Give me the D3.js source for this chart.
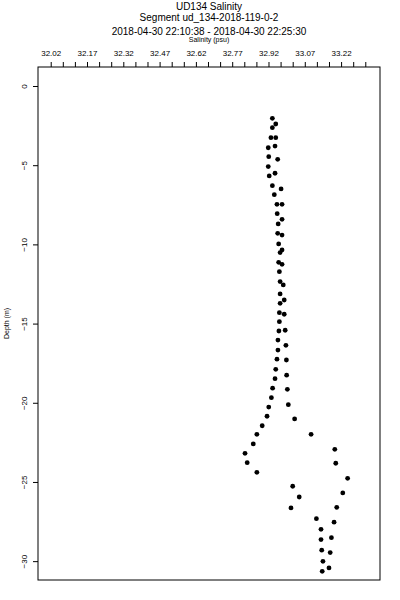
<!DOCTYPE html>
<html>
<head>
<meta charset="utf-8">
<script src="https://cdn.jsdelivr.net/npm/d3@7"></script>
<style>
  body { margin: 0; background: #fff; }
  text { font-family: "Liberation Sans", Arial, sans-serif; fill: #000; }
</style>
</head>
<body>
<svg width="400" height="600"></svg>
<script>
// titles
var titleLines = ["UD134 Salinity", "Segment ud_134-2018-119-0-2", "2018-04-30 22:10:38 - 2018-04-30 22:25:30"];
var xLabel = "Salinity (psu)";
var yLabel = "Depth (m)";

// salinity (psu) and depth (m)
var salinity = [32.936, 32.950, 32.936, 32.930, 32.950, 32.919, 32.947, 32.921, 32.958, 32.919,
                32.923, 32.947, 32.936, 32.972, 32.944, 32.955, 32.976, 32.956, 32.976, 32.960,
                32.958, 32.976, 32.962, 32.968, 32.976, 32.962, 32.976, 32.965, 32.968, 32.981,
                32.968, 32.968, 32.985, 32.965, 32.985, 32.965, 32.963, 32.989, 32.959, 32.959,
                32.992, 32.955, 32.994, 32.950, 32.947, 32.995, 32.937, 32.998, 32.932, 32.921,
                33.002, 32.914, 33.028, 32.894, 32.872, 33.096, 32.857, 32.823, 33.194, 32.832,
                33.198, 32.872, 33.247, 33.020, 33.227, 33.047, 33.013, 33.202, 33.118, 33.191,
                33.137, 33.137, 33.180, 33.140, 33.175, 33.145, 33.142, 33.170];
var depth = [2.04, 2.40, 2.63, 3.26, 3.26, 3.90, 3.79, 4.46, 4.63, 5.09,
             5.68, 5.51, 6.29, 6.50, 6.86, 7.47, 7.47, 8.06, 8.42, 8.71,
             9.30, 9.41, 9.97, 10.52, 10.35, 11.13, 11.26, 11.72, 12.35, 12.56,
             13.13, 13.72, 13.51, 14.31, 14.41, 14.88, 15.47, 15.42, 16.04, 16.67,
             16.37, 17.25, 17.30, 17.89, 18.48, 18.26, 19.08, 19.15, 19.68, 20.27,
             20.12, 20.85, 21.02, 21.45, 21.99, 21.99, 22.60, 23.19, 22.94, 23.78,
             23.82, 24.39, 24.77, 25.27, 25.69, 25.95, 26.64, 26.60, 27.32, 27.54,
             27.99, 28.64, 28.52, 29.31, 29.46, 30.01, 30.64, 30.43];

// axis ticks
var xTicks = d3.range(0, 27).map(function(i){ return +(32.02 + i * 0.05).toFixed(2); });
var xTickLabels = [32.02, 32.17, 32.32, 32.47, 32.62, 32.77, 32.92, 33.07, 33.22];
var yTicks = [0, -5, -10, -15, -20, -25, -30];

var box = {left: 38, right: 380, top: 67, bottom: 580};

var svg = d3.select("svg");

var x = d3.scaleLinear()
          .domain([31.9675, 33.3808])
          .range([box.left, box.right]);
var y = d3.scaleLinear()
          .domain([1.2, -31.19])
          .range([box.top, box.bottom]);

// titles
var titleY = [10, 21, 34.5];
svg.selectAll(".title")
   .data(titleLines)
   .enter()
   .append("text")
   .attr("class", "title")
   .attr("x", 209)
   .attr("y", function(d, i){ return titleY[i]; })
   .attr("text-anchor", "middle")
   .style("font-size", "10px")
   .text(function(d){ return d; });

svg.append("text")
   .attr("x", 209)
   .attr("y", 41.5)
   .attr("text-anchor", "middle")
   .style("font-size", "7px")
   .text(xLabel);

// top axis
var xAxis = d3.axisTop(x)
              .tickValues(xTicks)
              .tickSize(5)
              .tickPadding(6)
              .tickFormat(function(d){
                return xTickLabels.indexOf(d) >= 0 ? d3.format(".2f")(d) : "";
              });
var gx = svg.append("g")
            .attr("transform", "translate(0," + box.top + ")")
            .call(xAxis);
gx.select(".domain").remove();
gx.selectAll("line").attr("stroke", "#000");
gx.selectAll("text")
  .attr("fill", "#000")
  .style("font-size", "8px");

// left axis
var yAxis = d3.axisLeft(y)
              .tickValues(yTicks)
              .tickSize(5)
              .tickFormat(d3.format("d"));
var gy = svg.append("g")
            .attr("transform", "translate(" + box.left + ",0)")
            .call(yAxis);
gy.select(".domain").remove();
gy.selectAll("line").attr("stroke", "#000");
gy.selectAll("text")
  .attr("x", null)
  .attr("dy", null)
  .attr("fill", "#000")
  .attr("text-anchor", "middle")
  .attr("transform", "translate(-11,0) rotate(-90)")
  .style("font-size", "8px");

svg.append("text")
   .attr("transform", "translate(9," + (box.top + box.bottom) / 2 + ") rotate(-90)")
   .attr("text-anchor", "middle")
   .style("font-size", "7px")
   .text(yLabel);

// frame
svg.append("rect")
   .attr("x", box.left)
   .attr("y", box.top)
   .attr("width", box.right - box.left)
   .attr("height", box.bottom - box.top)
   .attr("fill", "none")
   .attr("stroke", "#000")
   .attr("stroke-width", 1);

// points
svg.append("g")
   .selectAll("circle")
   .data(salinity)
   .enter()
   .append("circle")
   .attr("cx", function(d){ return x(d); })
   .attr("cy", function(d, i){ return y(-depth[i]); })
   .attr("r", 2.4)
   .attr("fill", "#000");
</script>
</body>
</html>
